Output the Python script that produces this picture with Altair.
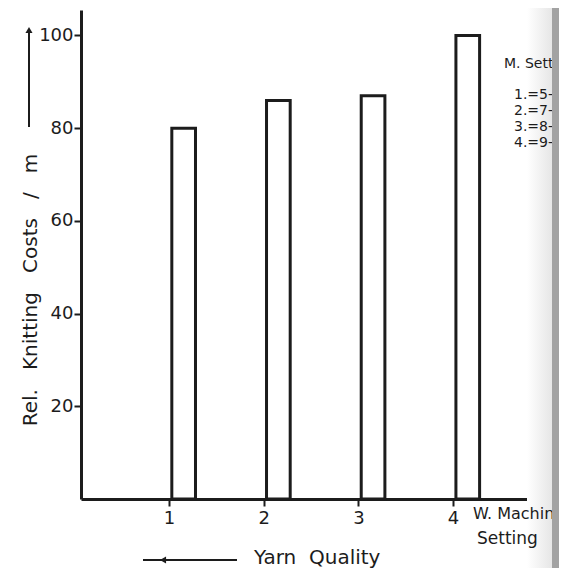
import altair as alt
import pandas as pd

# --- data ---
settings = [1, 2, 3, 4]
costs = [80, 86, 87, 100]
y_ticks = [20, 40, 60, 80, 100]
x_ticks = [1, 2, 3, 4]
legend_title = "M. Sett"
legend_lines = ["1.=5-", "2.=7-", "3.=8-", "4.=9-"]

FONT = "DejaVu Sans"
INK = "#1c1c1c"

df = pd.DataFrame({"setting": settings, "cost": costs})

W, H = 454, 489
xscale = alt.Scale(domain=[0.071, 4.865], nice=False, zero=False)
yscale = alt.Scale(domain=[0, 105.5], nice=False)

bars = alt.Chart(df).transform_calculate(
    x0="datum.setting + 0.03", x1="datum.setting + 0.28"
).mark_rect(fill="white", stroke=INK, strokeWidth=3).encode(
    x=alt.X("x0:Q", scale=xscale,
            axis=alt.Axis(values=x_ticks, format="d", title=None, grid=False,
                          domainColor=INK, domainWidth=3, tickColor=INK, tickWidth=2,
                          tickSize=7, labelFont=FONT, labelFontSize=18, labelColor=INK,
                          labelPadding=3)),
    x2="x1:Q",
    y=alt.Y("cost:Q", scale=yscale,
            axis=alt.Axis(values=y_ticks, title=None, grid=False,
                          domainColor=INK, domainWidth=3, tickColor=INK, tickWidth=2,
                          tickSize=7, labelFont=FONT, labelFontSize=18, labelColor=INK,
                          labelPadding=1)),
    y2=alt.datum(0),
)

base = alt.Chart(pd.DataFrame({"a": [0]}))

shade = base.mark_rect(fill=alt.Gradient(
    gradient="linear", x1=0, x2=1, y1=0, y2=0,
    stops=[alt.GradientStop(color="#ffffff", offset=0),
           alt.GradientStop(color="#e6e6e6", offset=1)])).encode(
    x=alt.value(446), x2=alt.value(471), y=alt.value(-20), y2=alt.value(600))

sp = " \u00a0\u00a0"
ytitle = base.mark_text(text=f"Rel.{sp}Knitting{sp}Costs{sp}/{sp}m", angle=270,
                        font=FONT, fontSize=20, color=INK,
                        align="center", baseline="middle").encode(
    x=alt.value(-50), y=alt.value(280))

yarrow = base.mark_rule(color=INK, strokeWidth=2).encode(
    x=alt.value(-52), y=alt.value(20), y2=alt.value(117))
yhead = base.mark_point(shape="triangle-up", filled=True, color=INK, size=50, opacity=1).encode(
    x=alt.value(-52), y=alt.value(20))

xarrow = base.mark_rule(color=INK, strokeWidth=2).encode(
    x=alt.value(62), x2=alt.value(156), y=alt.value(550))
xhead = base.mark_point(shape="triangle-left", filled=True, color=INK, size=50, opacity=1).encode(
    x=alt.value(82), y=alt.value(550))

xtitle = base.mark_text(text="Yarn\u00a0 Quality", font=FONT, fontSize=20, color=INK,
                        align="left", baseline="middle").encode(
    x=alt.value(173), y=alt.value(548))

mach1 = base.mark_text(text="W. Machin", font=FONT, fontSize=16, color=INK,
                       align="left", baseline="middle").encode(
    x=alt.value(392), y=alt.value(504))
mach2 = base.mark_text(text="Setting", font=FONT, fontSize=17, color=INK,
                       align="left", baseline="middle").encode(
    x=alt.value(396), y=alt.value(529))

leg_df = pd.DataFrame({"t": legend_lines, "i": list(range(len(legend_lines)))})
leg_title = base.mark_text(text=legend_title, font=FONT, fontSize=14, color=INK,
                           align="left", baseline="middle").encode(
    x=alt.value(423), y=alt.value(54))
leg = alt.Chart(leg_df).transform_calculate(py="85 + datum.i * 16").mark_text(
    font=FONT, fontSize=14, color=INK, align="left", baseline="middle").encode(
    x=alt.value(433), y=alt.Y("py:Q", scale=None), text="t:N")

band = base.mark_rect(fill="#a2a2a2").encode(
    x=alt.value(471), x2=alt.value(478), y=alt.value(-20), y2=alt.value(600))

chart = alt.layer(
    shade, bars, ytitle, yarrow, yhead, xarrow, xhead, xtitle, mach1, mach2,
    leg_title, leg, band
).properties(
    width=W, height=H,
    autosize=alt.AutoSizeParams(type="none"),
    padding={"left": 73, "top": 2, "right": 24, "bottom": 69},
    background="white",
).configure_view(stroke=None)

chart.save("out.html", embed_options={"renderer": "svg", "actions": False})
